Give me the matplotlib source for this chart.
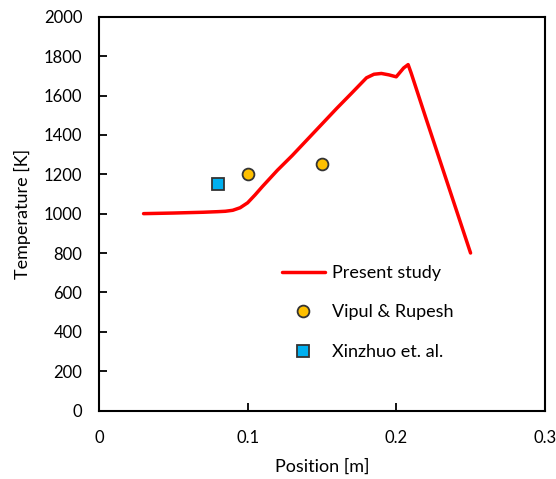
import matplotlib
matplotlib.use("Agg")
import matplotlib.pyplot as plt

plt.rcParams['font.family'] = ['Lato', 'DejaVu Sans']

pos = [0.03, 0.05, 0.07, 0.08, 0.085, 0.09, 0.095, 0.1, 0.105, 0.11, 0.12, 0.13, 0.14, 0.15,
       0.16, 0.17, 0.18, 0.185, 0.19, 0.195, 0.2, 0.205, 0.208, 0.21, 0.22, 0.23, 0.24, 0.25]
temp = [1000, 1003, 1007, 1010, 1012, 1017, 1030, 1055, 1095, 1138, 1220, 1295, 1375, 1455,
        1535, 1612, 1690, 1708, 1712, 1705, 1695, 1740, 1757, 1715, 1484, 1256, 1028, 800]

vr_x = [0.1, 0.15]
vr_y = [1200, 1250]
xz_x = [0.08]
xz_y = [1150]

fig = plt.figure(figsize=(5.56, 4.79), dpi=100)
ax = fig.add_axes([0.178, 0.143, 0.802, 0.822])

ax.plot(pos, temp, color='#FF0000', lw=2.5, label='Present study',
        solid_capstyle='round', solid_joinstyle='round')
ax.plot(vr_x, vr_y, 'o', ms=8.5, mfc='#FFC000', mec='#333333', mew=1.3, label='Vipul & Rupesh')
ax.plot(xz_x, xz_y, 's', ms=8.5, mfc='#00B0F0', mec='#333333', mew=1.3, label='Xinzhuo et. al.')

ax.set_xlim(0, 0.3)
ax.set_ylim(0, 2000)
ax.set_xticks([0, 0.1, 0.2, 0.3])
ax.set_xticklabels(['0', '0.1', '0.2', '0.3'])
ax.set_yticks(range(0, 2001, 200))
ax.tick_params(direction='in', length=6, width=1.3, labelsize=12, colors='black')
ax.tick_params(axis='x', pad=14)
ax.tick_params(axis='y', pad=12)
for s in ax.spines.values():
    s.set_linewidth(1.5)
ax.set_xlabel('Position [m]', fontsize=13, labelpad=9)
ax.set_ylabel('Temperature [K]', fontsize=13, labelpad=9)

ax.legend(loc='center left', bbox_to_anchor=(0.41, 0.249), frameon=False, fontsize=13,
          labelspacing=1.3, handlelength=2.4, handletextpad=0.4, numpoints=1,
          borderpad=0, borderaxespad=0)

fig.savefig('out.png', dpi=100)
